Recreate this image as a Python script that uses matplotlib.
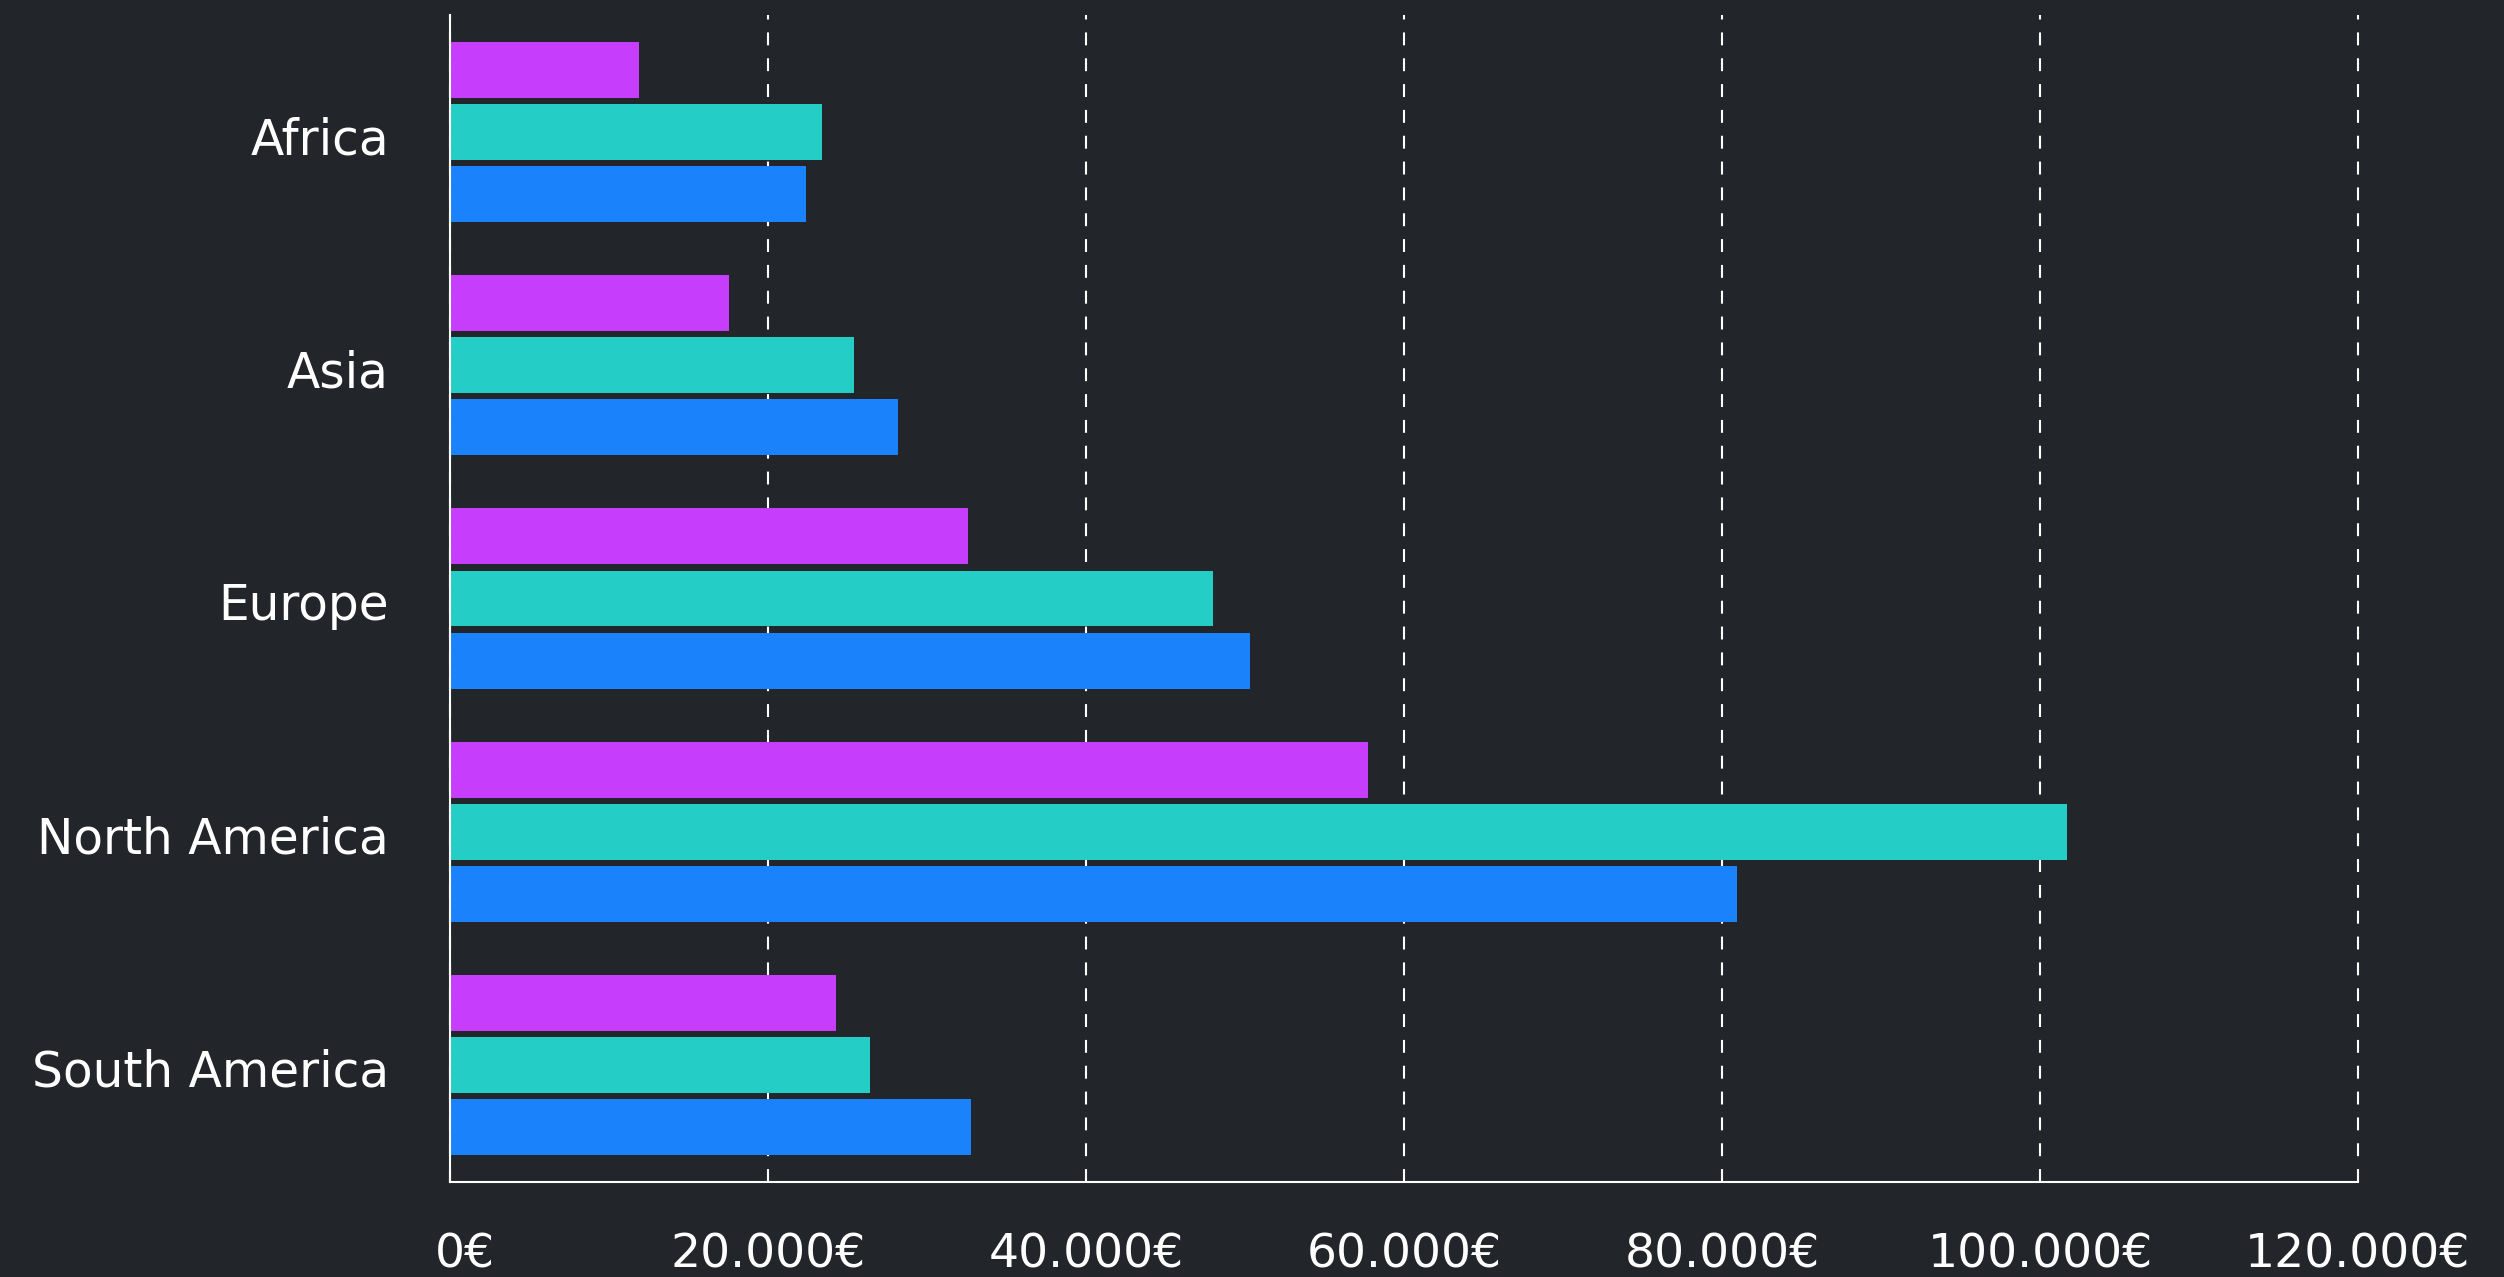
import matplotlib
matplotlib.use("Agg")
import matplotlib.pyplot as plt
import matplotlib.transforms as mtransforms
import numpy as np

categories = ["Africa", "Asia", "Europe", "North America", "South America"]
series_purple = [11900, 17550, 32600, 57750, 24300]
series_teal = [23400, 25400, 48000, 101700, 26400]
series_blue = [22400, 28150, 50300, 80950, 32750]
xticks = [0, 20000, 40000, 60000, 80000, 100000, 120000]
xtick_labels = ["0€", "20.000€", "40.000€", "60.000€", "80.000€", "100.000€", "120.000€"]

BG = "#22252a"
PURPLE = "#c63dfb"
TEAL = "#24cec6"
BLUE = "#1a83fb"

plt.rcParams["font.family"] = ["DejaVu Sans"]

fig = plt.figure(figsize=(25.04, 12.77), dpi=100, facecolor=BG)
ax = fig.add_axes([450 / 2504, (1277 - 1182) / 1277, (2358 - 450) / 2504, (1182 - 15) / 1277])
ax.set_facecolor(BG)

y = np.arange(len(categories))
h = 0.24
off = 0.266
ax.barh(y - off, series_purple, height=h, color=PURPLE, zorder=3)
ax.barh(y, series_teal, height=h, color=TEAL, zorder=3)
ax.barh(y + off, series_blue, height=h, color=BLUE, zorder=3)

ax.set_xlim(0, 120000)
ax.set_ylim(4.502, -0.502)

ax.set_xticks(xticks)
ax.set_xticklabels(xtick_labels)
ax.set_yticks(y)
ax.set_yticklabels(categories)

ax.tick_params(axis="x", length=0, colors="white", labelsize=34, pad=36)
ax.tick_params(axis="y", length=0, colors="white", labelsize=35, pad=44)

ax.grid(axis="x", color="white", linewidth=1.5, linestyle=(0, (6.2, 6.2)), zorder=1)
ax.grid(axis="y", visible=False)
for gl in ax.get_xgridlines():
    gl.set_clip_on(False)

for s in ["top", "right"]:
    ax.spines[s].set_visible(False)
for s in ["left", "bottom"]:
    ax.spines[s].set_color("white")
    ax.spines[s].set_linewidth(1.5)
    ax.spines[s].set_zorder(4)

# first tick label is shifted slightly right in the reference
lbl0 = ax.get_xticklabels()[0]
lbl0.set_transform(lbl0.get_transform() + mtransforms.ScaledTranslation(15 / 100, 0, fig.dpi_scale_trans))
# category labels sit slightly lower
for lbl in ax.get_yticklabels():
    lbl.set_transform(lbl.get_transform() + mtransforms.ScaledTranslation(0, -3 / 100, fig.dpi_scale_trans))

fig.savefig("out.png", dpi=100, facecolor=BG)
